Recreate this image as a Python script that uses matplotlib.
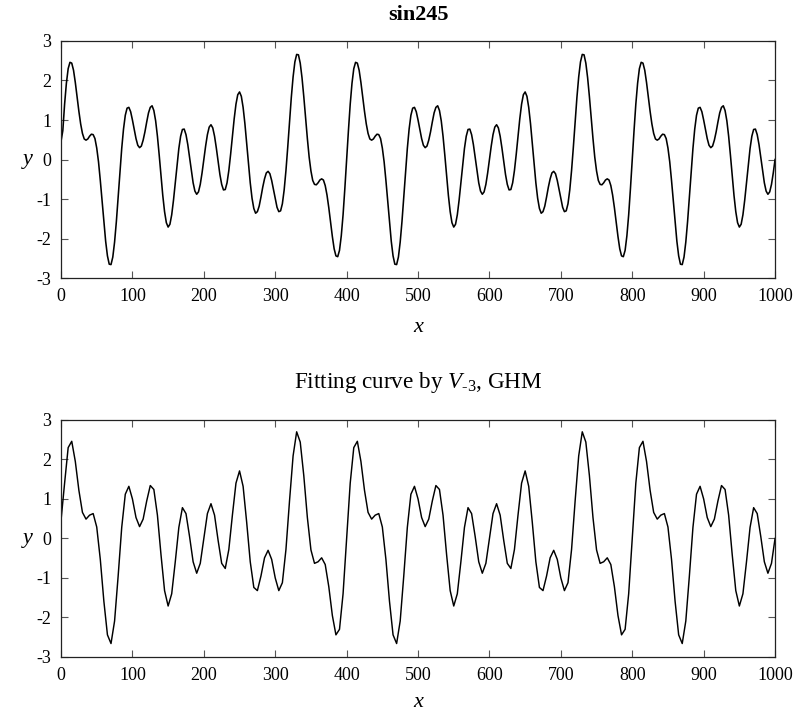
import numpy as np
import matplotlib.pyplot as plt

plt.rcParams['font.family'] = ['Liberation Serif', 'DejaVu Serif']
plt.rcParams['mathtext.fontset'] = 'custom'
plt.rcParams['mathtext.rm'] = 'Liberation Serif'
plt.rcParams['mathtext.it'] = 'Liberation Serif:italic'
plt.rcParams['axes.unicode_minus'] = False

x_sig = np.arange(0, 1000.1, 2.5)
y_sig = [
    0.46, 0.73, 1.40, 1.93, 2.30, 2.46, 2.44, 2.26, 1.95, 1.59,
    1.22, 0.90, 0.66, 0.52, 0.49, 0.52, 0.59, 0.64, 0.63, 0.53,
    0.29, -0.06, -0.53, -1.05, -1.59, -2.07, -2.44, -2.65, -2.66, -2.47,
    -2.09, -1.57, -0.95, -0.31, 0.28, 0.77, 1.12, 1.30, 1.32, 1.21,
    1.00, 0.76, 0.53, 0.36, 0.30, 0.34, 0.49, 0.70, 0.95, 1.18,
    1.32, 1.36, 1.24, 0.98, 0.59, 0.11, -0.41, -0.91, -1.32, -1.60,
    -1.71, -1.64, -1.40, -1.03, -0.59, -0.13, 0.28, 0.59, 0.76, 0.77,
    0.63, 0.38, 0.05, -0.29, -0.59, -0.80, -0.88, -0.82, -0.63, -0.34,
    0.00, 0.34, 0.63, 0.82, 0.88, 0.80, 0.59, 0.29, -0.05, -0.38,
    -0.63, -0.77, -0.76, -0.59, -0.28, 0.13, 0.59, 1.03, 1.40, 1.64,
    1.71, 1.60, 1.32, 0.91, 0.41, -0.11, -0.59, -0.98, -1.24, -1.36,
    -1.32, -1.18, -0.95, -0.70, -0.49, -0.34, -0.30, -0.36, -0.53, -0.76,
    -1.00, -1.21, -1.32, -1.30, -1.12, -0.77, -0.28, 0.31, 0.95, 1.57,
    2.09, 2.47, 2.66, 2.65, 2.44, 2.07, 1.59, 1.05, 0.53, 0.06,
    -0.29, -0.53, -0.63, -0.64, -0.59, -0.52, -0.49, -0.52, -0.66, -0.90,
    -1.22, -1.59, -1.95, -2.26, -2.44, -2.46, -2.30, -1.93, -1.40, -0.73,
    # 400
    0.00, 0.73, 1.40, 1.93, 2.30, 2.46, 2.44, 2.26, 1.95, 1.59,
    1.22, 0.90, 0.66, 0.52, 0.49, 0.52, 0.59, 0.64, 0.63, 0.53,
    0.29, -0.06, -0.53, -1.05, -1.59, -2.07, -2.44, -2.65, -2.66, -2.47,
    -2.09, -1.57, -0.95, -0.31, 0.28, 0.77, 1.12, 1.30, 1.32, 1.21,
    1.00, 0.76, 0.53, 0.36, 0.30, 0.34, 0.49, 0.70, 0.95, 1.18,
    1.32, 1.36, 1.24, 0.98, 0.59, 0.11, -0.41, -0.91, -1.32, -1.60,
    -1.71, -1.64, -1.40, -1.03, -0.59, -0.13, 0.28, 0.59, 0.76, 0.77,
    0.63, 0.38, 0.05, -0.29, -0.59, -0.80, -0.88, -0.82, -0.63, -0.34,
    0.00, 0.34, 0.63, 0.82, 0.88, 0.80, 0.59, 0.29, -0.05, -0.38,
    -0.63, -0.77, -0.76, -0.59, -0.28, 0.13, 0.59, 1.03, 1.40, 1.64,
    1.71, 1.60, 1.32, 0.91, 0.41, -0.11, -0.59, -0.98, -1.24, -1.36,
    -1.32, -1.18, -0.95, -0.70, -0.49, -0.34, -0.30, -0.36, -0.53, -0.76,
    -1.00, -1.21, -1.32, -1.30, -1.12, -0.77, -0.28, 0.31, 0.95, 1.57,
    2.09, 2.47, 2.66, 2.65, 2.44, 2.07, 1.59, 1.05, 0.53, 0.06,
    -0.29, -0.53, -0.63, -0.64, -0.59, -0.52, -0.49, -0.52, -0.66, -0.90,
    -1.22, -1.59, -1.95, -2.26, -2.44, -2.46, -2.30, -1.93, -1.40, -0.73,
    # 800
    0.00, 0.73, 1.40, 1.93, 2.30, 2.46, 2.44, 2.26, 1.95, 1.59,
    1.22, 0.90, 0.66, 0.52, 0.49, 0.52, 0.59, 0.64, 0.63, 0.53,
    0.29, -0.06, -0.53, -1.05, -1.59, -2.07, -2.44, -2.65, -2.66, -2.47,
    -2.09, -1.57, -0.95, -0.31, 0.28, 0.77, 1.12, 1.30, 1.32, 1.21,
    1.00, 0.76, 0.53, 0.36, 0.30, 0.34, 0.49, 0.70, 0.95, 1.18,
    1.32, 1.36, 1.24, 0.98, 0.59, 0.11, -0.41, -0.91, -1.32, -1.60,
    -1.71, -1.64, -1.40, -1.03, -0.59, -0.13, 0.28, 0.59, 0.76, 0.77,
    0.63, 0.38, 0.05, -0.29, -0.59, -0.80, -0.88, -0.82, -0.63, -0.34,
    0.00,
]

# fitted curve (V_-3, GHM), coarser nodes every 5
x_fit = np.arange(0, 1000.1, 5)
y_fit = [
    0.46, 1.40, 2.30, 2.46, 1.95, 1.22, 0.66, 0.49, 0.59, 0.63,
    0.29, -0.53, -1.59, -2.44, -2.66, -2.09, -0.95, 0.28, 1.12, 1.32,
    1.00, 0.53, 0.30, 0.49, 0.95, 1.34, 1.24, 0.59, -0.41, -1.32,
    -1.71, -1.40, -0.59, 0.28, 0.78, 0.63, 0.05, -0.59, -0.88, -0.63,
    0.00, 0.63, 0.88, 0.59, -0.05, -0.63, -0.76, -0.28, 0.59, 1.40,
    1.71, 1.32, 0.41, -0.59, -1.24, -1.32, -0.95, -0.49, -0.30, -0.53,
    -1.00, -1.32, -1.12, -0.28, 0.95, 2.09, 2.70, 2.44, 1.59, 0.53,
    -0.29, -0.63, -0.59, -0.49, -0.66, -1.22, -1.95, -2.44, -2.30, -1.40,
    # 400
    0.00, 1.40, 2.30, 2.46, 1.95, 1.22, 0.66, 0.49, 0.59, 0.63,
    0.29, -0.53, -1.59, -2.44, -2.66, -2.09, -0.95, 0.28, 1.12, 1.32,
    1.00, 0.53, 0.30, 0.49, 0.95, 1.34, 1.24, 0.59, -0.41, -1.32,
    -1.71, -1.40, -0.59, 0.28, 0.78, 0.63, 0.05, -0.59, -0.88, -0.63,
    0.00, 0.63, 0.88, 0.59, -0.05, -0.63, -0.76, -0.28, 0.59, 1.40,
    1.71, 1.32, 0.41, -0.59, -1.24, -1.32, -0.95, -0.49, -0.30, -0.53,
    -1.00, -1.32, -1.12, -0.28, 0.95, 2.09, 2.70, 2.44, 1.59, 0.53,
    -0.29, -0.63, -0.59, -0.49, -0.66, -1.22, -1.95, -2.44, -2.30, -1.40,
    # 800
    0.00, 1.40, 2.30, 2.46, 1.95, 1.22, 0.66, 0.49, 0.59, 0.63,
    0.29, -0.53, -1.59, -2.44, -2.66, -2.09, -0.95, 0.28, 1.12, 1.32,
    1.00, 0.53, 0.30, 0.49, 0.95, 1.34, 1.24, 0.59, -0.41, -1.32,
    -1.71, -1.40, -0.59, 0.28, 0.78, 0.63, 0.05, -0.59, -0.88, -0.63,
    0.00,
]

x_ticks = list(range(0, 1001, 100))
y_ticks = [-3, -2, -1, 0, 1, 2, 3]


def style_axes(ax, xlabel_y):
    ax.set_xlim(0, 1000)
    ax.set_ylim(-3, 3)
    ax.set_xticks(x_ticks)
    ax.set_yticks(y_ticks)
    ax.tick_params(direction='in', top=True, right=True, length=5,
                   width=0.8, color='#555555', labelsize=13, pad=7)
    for sp in ax.spines.values():
        sp.set_linewidth(0.9)
        sp.set_color('#222222')
    ax.set_xlabel('x', fontsize=16, fontstyle='italic', va='center')
    ax.xaxis.set_label_coords(0.5, xlabel_y)
    ax.set_ylabel('y', fontsize=16, fontstyle='italic', rotation=0,
                  va='center', ha='center')
    ax.yaxis.set_label_coords(-0.047, 0.5)


fig = plt.figure(figsize=(8.03, 7.18), dpi=100)

ax1 = fig.add_axes([0.0760, 0.6128, 0.8892, 0.3301])
ax1.plot(x_sig, y_sig, color='black', lw=1.15)
style_axes(ax1, -0.207)
ax1.set_title('sin245', fontsize=16, fontweight='bold', pad=15)

ax2 = fig.add_axes([0.0760, 0.0850, 0.8892, 0.3301])
ax2.plot(x_fit, y_fit, color='black', lw=1.05)
style_axes(ax2, -0.194)
ax2.set_title(r'Fitting curve by $V_{\text{-}3}$, GHM', fontsize=16.7, pad=23)

fig.savefig('out.png', dpi=100)
